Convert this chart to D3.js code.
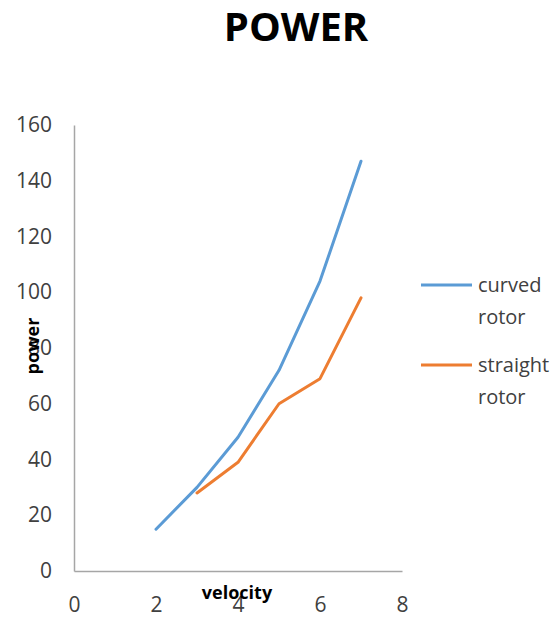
<!DOCTYPE html>
<html>
<head>
<meta charset="utf-8">
<script src="https://cdn.jsdelivr.net/npm/d3@7"></script>
<style>
  html, body { margin: 0; padding: 0; background: #fff; }
  svg { display: block; font-family: "Open Sans", "DejaVu Sans", sans-serif; }
</style>
</head>
<body>
<svg id="chart" width="560" height="619"></svg>
<script>
// Measured power for the two rotor types at each wind velocity
const curvedVelocity = [2, 3, 4, 5, 6, 7];
const curvedPower = [15, 30, 48, 72, 104, 147];
const straightVelocity = [3, 4, 5, 6, 7];
const straightPower = [28, 39, 60, 69, 98];

const seriesNames = ["curved rotor", "straight rotor"];
const seriesColors = ["#5B9BD5", "#ED7D31"];

const xTicks = [0, 2, 4, 6, 8];
const yTicks = [0, 20, 40, 60, 80, 100, 120, 140, 160];

const svg = d3.select("#chart");

const plot = { left: 74, right: 402, top: 125, bottom: 571 };

const x = d3.scaleLinear().domain([0, 8]).range([plot.left, plot.right]);
const y = d3.scaleLinear().domain([0, 160]).range([plot.bottom, plot.top]);

// Title
svg.append("text")
  .attr("x", 296).attr("y", 41)
  .attr("text-anchor", "middle")
  .attr("font-size", 40).attr("font-weight", "bold")
  .attr("fill", "#000")
  .text("POWER");

// Y axis
const yAxis = svg.append("g")
  .attr("transform", `translate(${plot.left},0)`)
  .call(d3.axisLeft(y).tickValues(yTicks).tickSize(0).tickPadding(22));
yAxis.select(".domain").attr("stroke", "#a6a6a6").attr("stroke-width", 1.5);
yAxis.selectAll("text")
  .attr("font-size", 21).attr("fill", "#404040")
  .attr("font-family", "Open Sans, sans-serif");

// X axis
const xAxis = svg.append("g")
  .attr("transform", `translate(0,${plot.bottom})`)
  .call(d3.axisBottom(x).tickValues(xTicks).tickSize(0).tickPadding(26));
xAxis.select(".domain").attr("stroke", "#a6a6a6").attr("stroke-width", 1.5);
xAxis.selectAll("text")
  .attr("font-size", 21).attr("fill", "#404040")
  .attr("font-family", "Open Sans, sans-serif");

// Axis titles
svg.append("text")
  .attr("x", 237).attr("y", 599)
  .attr("text-anchor", "middle")
  .attr("font-size", 18).attr("font-weight", "bold").attr("fill", "#000")
  .text("velocity");

svg.append("text")
  .attr("transform", "translate(39,346) rotate(-90)")
  .attr("text-anchor", "middle")
  .attr("font-size", 18).attr("font-weight", "bold").attr("fill", "#000")
  .text("power");

// Lines
const line = d3.line().x(d => x(d[0])).y(d => y(d[1]));

const series = [
  d3.zip(curvedVelocity, curvedPower),
  d3.zip(straightVelocity, straightPower)
];

series.forEach((pts, i) => {
  svg.append("path")
    .datum(pts)
    .attr("fill", "none")
    .attr("stroke", seriesColors[i])
    .attr("stroke-width", 3)
    .attr("stroke-linejoin", "round")
    .attr("stroke-linecap", "round")
    .attr("d", line);
});

// Legend
const legendRows = [285, 365];
seriesNames.forEach((name, i) => {
  const g = svg.append("g").attr("transform", `translate(0,${legendRows[i]})`);
  g.append("line")
    .attr("x1", 421).attr("x2", 472)
    .attr("y1", 0).attr("y2", 0)
    .attr("stroke", seriesColors[i]).attr("stroke-width", 3);
  const words = name.split(" ");
  g.append("text")
    .attr("x", 478).attr("y", 7)
    .attr("font-size", 20).attr("fill", "#404040")
    .text(words[0]);
  g.append("text")
    .attr("x", 478).attr("y", 39)
    .attr("font-size", 20).attr("fill", "#404040")
    .text(words[1]);
});
</script>
</body>
</html>
